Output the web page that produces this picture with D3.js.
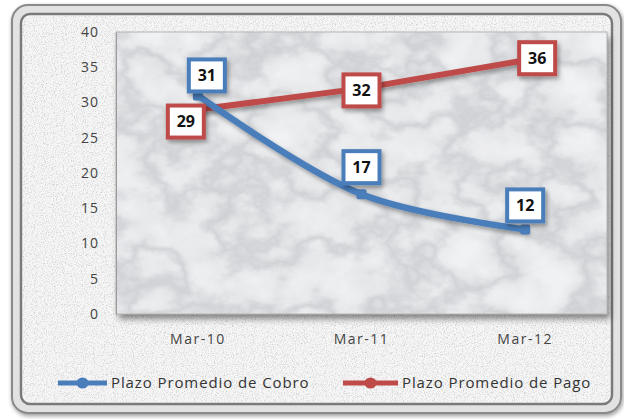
<!DOCTYPE html>
<html>
<head>
<meta charset="utf-8">
<script src="https://cdn.jsdelivr.net/npm/d3@7/dist/d3.min.js"></script>
<style>
  html, body { margin: 0; padding: 0; background: #fff; }
  svg { display: block; font-family: "Open Sans", "Liberation Sans", sans-serif; }
</style>
</head>
<body>
<svg id="chart" width="624" height="419"></svg>
<script>
// Data
const categories = ["Mar-10", "Mar-11", "Mar-12"];
const cobro = [31, 17, 12];
const pago = [29, 32, 36];
const yTicks = [0, 5, 10, 15, 20, 25, 30, 35, 40];
const seriesNames = ["Plazo Promedio de Cobro", "Plazo Promedio de Pago"];

const colors = { cobro: "#4a7ebb", pago: "#be4b48" };
const FONT = '"Open Sans", "Liberation Sans", sans-serif';

const svg = d3.select("#chart");
const plot = { left: 116, right: 607, top: 32, bottom: 314 };

const defs = svg.append("defs");

// Speckled paper texture for the chart background
const speck = defs.append("filter").attr("id", "speck").attr("x", 0).attr("y", 0).attr("width", 1).attr("height", 1);
speck.append("feTurbulence").attr("type", "fractalNoise").attr("baseFrequency", 0.9).attr("numOctaves", 2).attr("seed", 3).attr("result", "n");
speck.append("feColorMatrix").attr("in", "n").attr("type", "matrix")
  .attr("values", "0 0 0 0 0.55  0 0 0 0 0.55  0 0 0 0 0.55  -2.2 0 0 0 1.15").attr("result", "dots");
speck.append("feComposite").attr("in", "dots").attr("in2", "SourceGraphic").attr("operator", "in");

// Marble texture for the plot area: soft cloudy base plus thin veins
const marble = defs.append("filter").attr("id", "marble").attr("x", 0).attr("y", 0).attr("width", 1).attr("height", 1);
marble.append("feTurbulence").attr("type", "fractalNoise").attr("baseFrequency", "0.012 0.016").attr("numOctaves", 5).attr("seed", 7).attr("result", "t");
marble.append("feColorMatrix").attr("in", "t").attr("type", "matrix")
  .attr("values", "0 0 0 0 0.42  0 0 0 0 0.43  0 0 0 0 0.46  1 0 0 0 0").attr("result", "g");
marble.append("feComponentTransfer").attr("in", "g").attr("result", "veins")
  .append("feFuncA").attr("type", "table").attr("tableValues", "0 0 0 0.03 0.12 0.45 0.12 0.03 0 0 0");
marble.append("feTurbulence").attr("type", "fractalNoise").attr("baseFrequency", "0.03").attr("numOctaves", 3).attr("seed", 2).attr("result", "c");
marble.append("feColorMatrix").attr("in", "c").attr("type", "matrix")
  .attr("values", "0 0 0 0 0.6  0 0 0 0 0.6  0 0 0 0 0.62  0.5 0 0 0 -0.18").attr("result", "cloud");
marble.append("feMerge").call(m => { m.append("feMergeNode").attr("in", "cloud"); m.append("feMergeNode").attr("in", "veins"); })
  .attr("result", "all");
marble.append("feComposite").attr("in", "all").attr("in2", "SourceGraphic").attr("operator", "in");

// Shadows
const sh = defs.append("filter").attr("id", "shadow").attr("x", "-10%").attr("y", "-10%").attr("width", "130%").attr("height", "130%");
sh.append("feDropShadow").attr("dx", 3).attr("dy", 5).attr("stdDeviation", 3).attr("flood-color", "#000").attr("flood-opacity", 0.45);
const lsh = defs.append("filter").attr("id", "lshadow").attr("x", "-30%").attr("y", "-30%").attr("width", "170%").attr("height", "170%");
lsh.append("feDropShadow").attr("dx", 2).attr("dy", 3).attr("stdDeviation", 2).attr("flood-color", "#000").attr("flood-opacity", 0.35);
const fsh = defs.append("filter").attr("id", "fshadow").attr("x", "-5%").attr("y", "-5%").attr("width", "110%").attr("height", "110%");
fsh.append("feDropShadow").attr("dx", 1).attr("dy", 2).attr("stdDeviation", 2).attr("flood-color", "#000").attr("flood-opacity", 0.4);

// Frame
svg.append("rect").attr("x", 12).attr("y", 5).attr("width", 609).attr("height", 408).attr("rx", 16)
  .attr("fill", "#e2e2e2").attr("stroke", "#8a8a8a").attr("stroke-width", 2).attr("filter", "url(#fshadow)");
svg.append("rect").attr("x", 21).attr("y", 14).attr("width", 591).attr("height", 390).attr("rx", 9)
  .attr("fill", "#f6f6f6").attr("stroke", "#7a7a7a").attr("stroke-width", 2.5);
svg.append("rect").attr("x", 23).attr("y", 16).attr("width", 587).attr("height", 386).attr("rx", 8)
  .attr("fill", "#fff").attr("filter", "url(#speck)");

// Plot area with marble
const pw = plot.right - plot.left, ph = plot.bottom - plot.top;
svg.append("rect").attr("x", plot.left).attr("y", plot.top).attr("width", pw).attr("height", ph)
  .attr("fill", "#f1f2f4").attr("filter", "url(#shadow)");
svg.append("rect").attr("x", plot.left).attr("y", plot.top).attr("width", pw).attr("height", ph)
  .attr("fill", "#fff").attr("filter", "url(#marble)");
svg.append("rect").attr("x", plot.left).attr("y", plot.top).attr("width", pw).attr("height", ph)
  .attr("fill", "none").attr("stroke", "#b5b5b5").attr("stroke-width", 1);

// Scales
const x = d3.scaleBand().domain(categories).range([plot.left, plot.right]);
const cx = d => x(d) + x.bandwidth() / 2;
const y = d3.scaleLinear().domain([0, 40]).range([plot.bottom, plot.top]);

// Axes
const yAxis = svg.append("g").attr("transform", `translate(${plot.left},0)`)
  .call(d3.axisLeft(y).tickValues(yTicks).tickSize(0).tickPadding(18))
  .attr("font-family", FONT).attr("font-size", 14);
yAxis.select(".domain").attr("stroke", "#9a9a9a");
yAxis.selectAll("text").attr("fill", "#444").attr("letter-spacing", 1).attr("dx", 1);

const xAxis = svg.append("g").attr("transform", `translate(0,${plot.bottom})`)
  .call(d3.axisBottom(x).tickSize(0).tickPadding(20))
  .attr("font-family", FONT).attr("font-size", 14);
xAxis.select(".domain").remove();
xAxis.selectAll("text").attr("fill", "#444").attr("letter-spacing", 1.5);

// Lines
const smooth = d3.line().x((d, i) => cx(categories[i])).y(d => y(d)).curve(d3.curveCatmullRom.alpha(0.5));
const straight = d3.line().x((d, i) => cx(categories[i])).y(d => y(d));

svg.append("path").datum(pago).attr("d", straight).attr("fill", "none")
  .attr("stroke", colors.pago).attr("stroke-width", 6).attr("stroke-linecap", "round").attr("filter", "url(#lshadow)");
svg.append("path").datum(cobro).attr("d", smooth).attr("fill", "none")
  .attr("stroke", colors.cobro).attr("stroke-width", 6.5).attr("stroke-linecap", "round").attr("filter", "url(#lshadow)");

// Markers
[[cobro, colors.cobro], [pago, colors.pago]].forEach(([vals, c]) => {
  svg.append("g").selectAll("rect").data(vals).join("rect")
    .attr("x", (d, i) => cx(categories[i]) - 5).attr("y", d => y(d) - 5)
    .attr("width", 10).attr("height", 10).attr("rx", 2).attr("fill", c);
});

// Data labels: boxes with series-coloured borders
const labelOffsets = {
  cobro: [[9, -20], [0, -27], [0, -24]],
  pago: [[-12, 12], [0, 2], [12, -2]]
};
function drawLabels(vals, key) {
  const g = svg.append("g");
  vals.forEach((v, i) => {
    const px = cx(categories[i]) + labelOffsets[key][i][0];
    const py = y(v) + labelOffsets[key][i][1];
    g.append("rect").attr("x", px - 18).attr("y", py - 16).attr("width", 36).attr("height", 32)
      .attr("fill", "#fff").attr("stroke", colors[key]).attr("stroke-width", 4).attr("filter", "url(#lshadow)");
    g.append("text").attr("x", px).attr("y", py).attr("text-anchor", "middle").attr("dy", "0.36em")
      .attr("font-size", 16).attr("font-weight", "bold").attr("fill", "#111").text(v);
  });
}
drawLabels(pago, "pago");
drawLabels(cobro, "cobro");

// Legend
const legend = [
  { name: seriesNames[0], color: colors.cobro, x0: 58, x1: 107 },
  { name: seriesNames[1], color: colors.pago, x0: 343, x1: 398 }
];
const ly = 383;
legend.forEach(l => {
  svg.append("line").attr("x1", l.x0).attr("x2", l.x1).attr("y1", ly).attr("y2", ly)
    .attr("stroke", l.color).attr("stroke-width", 5);
  svg.append("ellipse").attr("cx", (l.x0 + l.x1) / 2).attr("cy", ly).attr("rx", 6).attr("ry", 5.5).attr("fill", l.color);
  svg.append("text").attr("x", l.x1 + 4).attr("y", ly).attr("dy", "0.35em")
    .attr("font-size", 15).attr("letter-spacing", 0.9).attr("fill", "#333").text(l.name);
});
</script>
</body>
</html>
